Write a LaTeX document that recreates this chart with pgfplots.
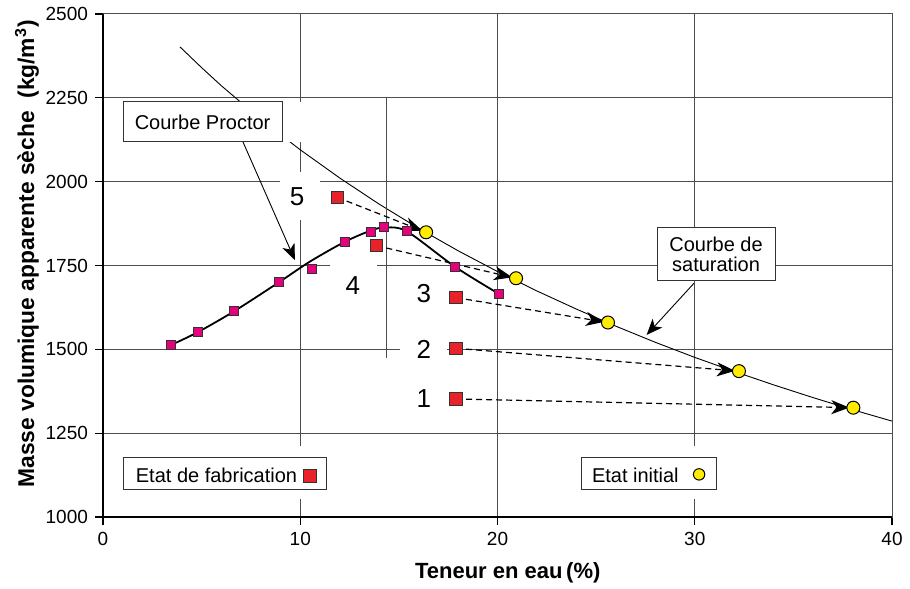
\documentclass[border=0pt]{standalone}
\usepackage{fontspec}
\setmainfont{Liberation Sans}
\usepackage{pgfplots}
\pgfplotsset{compat=1.18}
\usetikzlibrary{arrows.meta}

\definecolor{gridc}{HTML}{4D4D4D}
\definecolor{fabred}{HTML}{E8222A}
\definecolor{procmag}{HTML}{E6007E}
\definecolor{inityel}{HTML}{FFEC00}
\definecolor{edge}{HTML}{333333}

\begin{document}
\begin{tikzpicture}
\begin{axis}[
  scale only axis, width=394.5pt, height=251.5pt,
  xmin=0, xmax=40, ymin=1000, ymax=2500,
  xtick={0,10,...,40}, ytick={1000,1250,...,2500},
  tick pos=left, tick align=outside, major tick length=4pt,
  grid=major, major grid style={gridc, line width=0.5pt},
  axis line style={gridc, line width=0.5pt},
  every tick/.style={black, line width=0.6pt},
  tick label style={font=\fontsize{9.5}{11}\selectfont},
  /pgf/number format/assume math mode=true,
  /pgf/number format/1000 sep={},
  xlabel={Teneur en eau\,(\%)},
  ylabel={Masse volumique apparente sèche\ \ (kg/m\textsuperscript{3})},
  xlabel style={font=\bfseries\fontsize{11}{13}\selectfont, at={(rel axis cs:0.513,-0.111)}, anchor=center},
  ylabel style={font=\bfseries\fontsize{11.4}{13}\selectfont, at={(rel axis cs:-0.0963,0.523)}, anchor=center},
  clip=false,
]
% courbe de saturation
\addplot[black, line width=0.45pt] coordinates {
  (3.9,2402) (5,2340) (6,2286) (8,2186) (10,2095) (12,2011) (14,1933)
  (16,1861) (18,1794) (20,1732) (22,1674) (24,1620) (26,1569) (28,1521)
  (30,1476) (32,1434) (34,1394) (36,1356) (38,1320) (40,1286)};

% white masks that cut the grid
\fill[white] (1.01,2118) rectangle (10.5,2237);
\fill[white] (8.97,1886) rectangle (11.0,2029);
\fill[white] (11.51,1660) rectangle (13.89,1770);
\fill[white] (15.06,1470) rectangle (17.44,1530);
\fill[white] (1.06,1054) rectangle (11.36,1212);
\fill[white] (24.23,1054) rectangle (31.08,1212);

% optimum marker line
\draw[gridc, line width=0.5pt] (14.35,2250) -- (14.35,1474);

% boxes
\node[draw=edge, fill=white, line width=0.5pt, minimum width=79.5pt, minimum height=20pt,
  inner sep=0pt, font=\fontsize{10}{12}\selectfont] at (5.05,2178) {Courbe Proctor};
\node[draw=edge, fill=white, line width=0.5pt, minimum width=59pt, minimum height=26.5pt,
  inner sep=0pt, align=center, font=\fontsize{10}{10}\selectfont] at (31.08,1783) {Courbe de\\saturation};

% legend boxes
\node[draw=edge, fill=white, line width=0.5pt, minimum width=101.5pt, minimum height=16pt,
  inner sep=0pt] (fab) at (6.21,1131) {};
\node[anchor=base west, inner sep=0pt, font=\fontsize{10}{12}\selectfont]
  at ([xshift=6pt,yshift=-4.65pt]fab.center -| fab.west) {Etat de fabrication};
\node[draw=edge, fill=fabred, line width=0.5pt, minimum size=6.3pt, inner sep=0pt]
  at ([xshift=-8.75pt,yshift=-1.4pt]fab.east) {};
\node[draw=edge, fill=white, line width=0.5pt, minimum width=67.5pt, minimum height=16pt,
  inner sep=0pt] (ini) at (27.66,1131) {};
\node[anchor=base west, inner sep=0pt, font=\fontsize{10}{12}\selectfont]
  at ([xshift=5.5pt,yshift=-4.65pt]ini.center -| ini.west) {Etat initial};
\node[circle, draw=black, fill=inityel, line width=0.5pt, minimum size=5.7pt, inner sep=0pt]
  at ([xshift=-8.75pt,yshift=-0.65pt]ini.east) {};

% numbers
\node[font=\fontsize{13}{15}\selectfont] at (9.84,1954) {5};
\node[font=\fontsize{13}{15}\selectfont] at (12.67,1690) {4};
\node[font=\fontsize{13}{15}\selectfont] at (16.27,1665) {3};
\node[font=\fontsize{13}{15}\selectfont] at (16.27,1500) {2};
\node[font=\fontsize{13}{15}\selectfont] at (16.27,1352) {1};

% annotation arrows
\draw[-{Stealth[length=8pt,width=6.5pt,inset=2.2pt]}, black, line width=0.45pt] (7.10,2118) -- (9.73,1766);
\draw[-{Stealth[length=8pt,width=6.5pt,inset=2.2pt]}, black, line width=0.45pt] (29.96,1697) -- (27.56,1543);

% courbe Proctor
\addplot[black, line width=0.9pt, smooth] coordinates {
  (3.45,1513) (4.80,1551) (6.66,1614) (8.92,1700) (10.5,1762) (12.27,1821)
  (13.57,1854) (14.26,1863) (15.40,1852) (17.85,1746) (20.08,1665)};
\addplot[only marks, mark=square*, mark size=2.25pt,
  mark options={fill=procmag, draw=edge, line width=0.5pt}] coordinates {
  (3.45,1513) (4.80,1551) (6.66,1614) (8.92,1700) (10.58,1740) (12.27,1821)
  (13.57,1849) (14.26,1864) (15.40,1854) (17.85,1746) (20.08,1665)};

% etat de fabrication
\addplot[only marks, mark=square*, mark size=3.1pt,
  mark options={fill=fabred, draw=edge, line width=0.5pt}] coordinates {
  (11.88,1953) (13.87,1809) (17.90,1654) (17.90,1503) (17.90,1352)};

% etat initial
\addplot[only marks, mark=*, mark size=3.25pt,
  mark options={fill=inityel, draw=black, line width=0.5pt}] coordinates {
  (16.38,1849) (20.94,1712) (25.60,1580) (32.24,1435) (38.04,1326)};

% evolution
\pgfplotsset{evo/.style={black, line width=0.6pt, dash pattern=on 3pt off 2pt,
  -{Stealth[length=9pt,width=7pt,inset=2.6pt]}, shorten >=2pt}}
\addplot[evo] coordinates {(11.88,1953) (16.38,1849)};
\addplot[evo] coordinates {(13.87,1809) (20.94,1712)};
\addplot[evo] coordinates {(17.90,1654) (25.60,1580)};
\addplot[evo] coordinates {(17.90,1503) (32.24,1435)};
\addplot[evo] coordinates {(17.90,1352) (38.04,1326)};

% heavier left and bottom axis lines
\draw[black, line width=1.1pt] (rel axis cs:0,1) -- (rel axis cs:0,0) -- (rel axis cs:1,0);
\end{axis}
\pgfresetboundingbox
\path ([shift={(-51.5pt,-35.5pt)}]current axis.south west) rectangle ([shift={(9pt,7pt)}]current axis.north east);
\end{tikzpicture}
\end{document}
